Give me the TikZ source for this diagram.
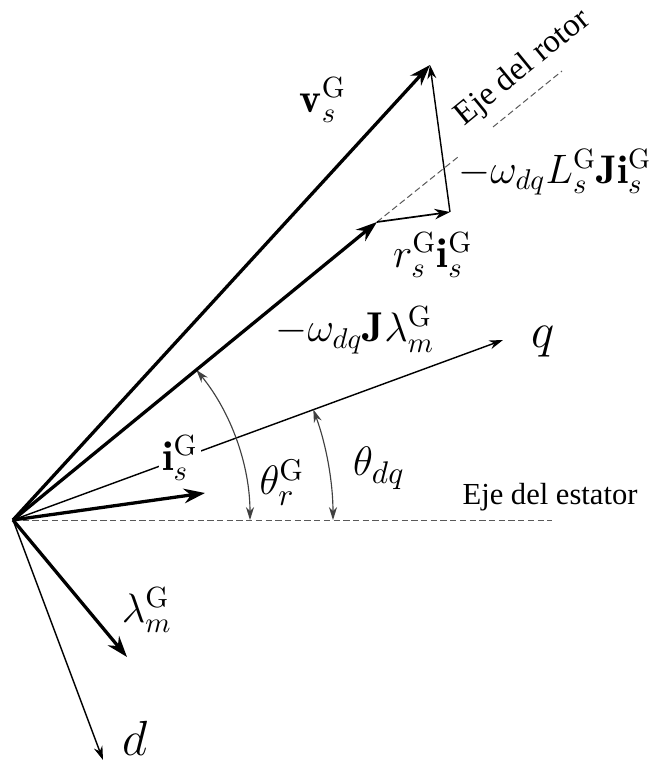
\documentclass[tikz,border=0pt]{standalone}
\usepackage{amsmath}
\usepackage{fontspec}
\newfontfamily\axisfont{Liberation Serif}
\usetikzlibrary{
  arrows.meta              % stealth arrowheads
}

\begin{document}
\begin{tikzpicture}[
    x=0.35pt, y=0.35pt,
    >={Stealth[length=2.6mm, width=1.8mm]},
    vecarrow/.style={->, line width=1.15pt},
    midarrow/.style={->, line width=0.6pt,
                     >={Stealth[length=1.9mm, width=1.3mm]}},
    thinarrow/.style={->, line width=0.5pt,
                      >={Stealth[length=1.7mm, width=1.1mm]}},
    refline/.style={dashed, line width=0.35pt, gray!70!black,
                    dash pattern=on 2.2pt off 1.2pt},
    anglearc/.style={<->, line width=0.4pt, gray!50!black,
                     >={Stealth[length=1.6mm, width=1mm]}},
    veclabel/.style={font=\fontsize{14.6}{17}\selectfont, inner sep=1pt},
    axislabel/.style={font=\fontsize{17}{19}\selectfont, inner sep=1pt},
    anglelabel/.style={font=\fontsize{15}{17}\selectfont, inner sep=1pt},
    axisname/.style={font=\axisfont\fontsize{10.7}{12}\selectfont, inner sep=0pt}
]
  \useasboundingbox (-13,-242) rectangle (640,520);

  % points of the diagram
  \coordinate (O)      at (0,0);
  \coordinate (stend)  at (539,0);
  \coordinate (qtip)   at (490,180);
  \coordinate (dtip)   at (90,-240);
  \coordinate (lamtip) at (114,-137);
  \coordinate (istip)  at (192,27);
  \coordinate (emftip) at (364,298);
  \coordinate (rtip)   at (437,308);
  \coordinate (vtip)   at (417,455);
  \coordinate (rotA)   at (445,363);
  \coordinate (rotB)   at (480,393);
  \coordinate (rotC)   at (549,449);

  % reference axes
  \draw[refline] (O) -- (stend);
  \draw[refline] (emftip) -- (rotA);
  \draw[refline] (rotB) -- (rotC);

  \node[axisname, anchor=base west] (stname) at (449,16) {Eje del estator};
  \node[axisname, font=\axisfont\fontsize{11.5}{13}\selectfont, rotate=39.3]
        (rotname) at (510,452) {Eje del rotor};

  % dq frame
  \draw[thinarrow] (O) -- (qtip);
  \draw[thinarrow] (O) -- (dtip);
  \node[axislabel] (qlab) at (530,178) {$q$};
  \node[axislabel] (dlab) at (122,-218) {$d$};

  % angles
  \draw[anglearc] (237,0) arc[start angle=0, end angle=39.3, radius=237];
  \draw[anglearc] (320,0) arc[start angle=0, end angle=20.2, radius=320];
  \node[anglelabel] (thr)  at (269,38) {$\theta_r^{\mathrm{G}}$};
  \node[anglelabel] (thdq) at (366,52) {$\theta_{dq}$};

  % vectors
  \draw[vecarrow] (O) -- (istip);
  \draw[vecarrow] (O) -- (lamtip);
  \draw[vecarrow] (O) -- (emftip);
  \draw[midarrow] (emftip) -- (rtip);
  \draw[thinarrow] (rtip) -- (vtip);
  \draw[vecarrow] (O) -- (vtip);

  \node[veclabel, fill=white] (islab) at (167,62) {$\mathbf{i}_s^{\mathrm{G}}$};
  \node[veclabel] (lamlab) at (134,-90)  {$\lambda_m^{\mathrm{G}}$};
  \node[veclabel] (emflab) at (342,190)  {$-\omega_{dq}\mathbf{J}\lambda_m^{\mathrm{G}}$};
  \node[veclabel] (rlab)   at (420,265)  {$r_s^{\mathrm{G}}\mathbf{i}_s^{\mathrm{G}}$};
  \node[veclabel] (vlab)   at (310,420)  {$\mathbf{v}_s^{\mathrm{G}}$};
  \node[veclabel, font=\fontsize{14}{16}\selectfont, anchor=west] (jlab) at (442,348)
        {$-\omega_{dq}L_s^{\mathrm{G}}\mathbf{J}\mathbf{i}_s^{\mathrm{G}}$};
\end{tikzpicture}
\end{document}
